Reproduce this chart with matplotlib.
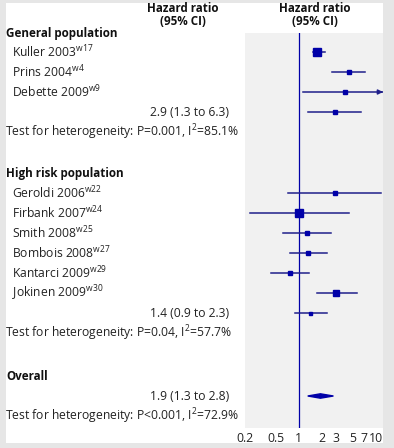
import matplotlib.pyplot as plt
import matplotlib.transforms as mtransforms
from matplotlib.patches import Rectangle
import numpy as np

plt.rcParams['font.family'] = ['Open Sans', 'DejaVu Sans']

# data
studies = ["Kuller 2003", "Prins 2004", "Debette 2009",
           "Geroldi 2006", "Firbank 2007", "Smith 2008", "Bombois 2008",
           "Kantarci 2009", "Jokinen 2009"]
refs = ["w17", "w4", "w9", "w22", "w24", "w25", "w27", "w29", "w30"]
hr = np.array([1.70, 4.4, 4.0, 2.9, 1.0, 1.27, 1.33, 0.77, 3.05])
lo = np.array([1.50, 2.7, 1.12, 0.73, 0.23, 0.62, 0.77, 0.43, 1.69])
hi = np.array([2.15, 7.2, 16.0, 11.6, 4.5, 2.62, 2.31, 1.37, 5.65])
weights = np.array([8.0, 3.5, 3.5, 3.3, 8.5, 3.7, 3.5, 4.7, 6.0])

groups = ["General population", "High risk population", "Overall"]
pooled = np.array([2.9, 1.4, 1.9])
pooled_lo = np.array([1.3, 0.9, 1.3])
pooled_hi = np.array([6.3, 2.3, 2.8])
pooled_w = np.array([5.0, 3.0])
het_p = ["P=0.001", "P=0.04", "P<0.001"]
het_i2 = ["85.1", "57.7", "72.9"]

xticks = [0.2, 0.5, 1, 2, 3, 5, 7, 10]
xticklabels = ["0.2", "0.5", "1", "2", "3", "5", "7", "10"]

# layout (row positions in pixels from the top)
study_rows = [52, 72, 92, 193, 213, 233, 253, 273, 293]
header_rows = [33, 173, 376]
pooled_rows = [112, 313, 396]
het_rows = [132, 333, 416]

W, H = 394, 448
fig = plt.figure(figsize=(W / 100, H / 100), dpi=100)
fig.patch.set_facecolor("#e6e6e6")
fig.patches.append(Rectangle((6 / W, 5 / H), (383 - 6) / W, (445 - 5) / H,
                             transform=fig.transFigure, facecolor="white",
                             edgecolor="none", zorder=-10))

ax = fig.add_axes([245 / W, (H - 428) / H, (383 - 245) / W, (428 - 33) / H])
ax.set_facecolor("#f1f1f1")
ax.set_xscale("log")
xmin, xmax = 0.21, 12.3
ax.set_xlim(xmin, xmax)
ax.set_ylim(428, 33)
for s in ax.spines.values():
    s.set_visible(False)
ax.set_yticks([])
ax.set_xticks(xticks)
ax.set_xticklabels(xticklabels)
ax.xaxis.set_minor_locator(plt.NullLocator())
ax.tick_params(axis="x", length=0, pad=3, labelsize=8.8, colors="#222222")

blue = "#0000a8"
line_blue = "#20208a"
ax.axvline(1, color=blue, lw=0.9, zorder=1)

# studies
for i in range(len(studies)):
    y = study_rows[i]
    top = min(hi[i], xmax)
    ax.plot([lo[i], top], [y, y], color=line_blue, lw=1.1, zorder=2)
    if hi[i] > xmax:
        ax.annotate("", xy=(xmax, y), xytext=(xmax * 0.85, y),
                    arrowprops=dict(arrowstyle="-|>", color=line_blue,
                                    lw=1.1, mutation_scale=7),
                    annotation_clip=False)
    ax.plot(hr[i], y, marker="s", color=blue, ms=weights[i] * 0.72,
            mec=blue, zorder=3)

# pooled subgroup estimates
for k in range(2):
    y = pooled_rows[k]
    ax.plot([pooled_lo[k], pooled_hi[k]], [y, y], color=line_blue, lw=1.1, zorder=2)
    ax.plot(pooled[k], y, marker="s", color=blue, ms=pooled_w[k] * 0.72, zorder=3)

# overall diamond
y = pooled_rows[2]
ax.fill([pooled_lo[2], pooled[2], pooled_hi[2], pooled[2]],
        [y, y - 2.2, y, y + 2.2], color=blue, zorder=3)

# text
trans = mtransforms.blended_transform_factory(fig.transFigure, ax.transData)
tc = "#222222"
fs = 8.75
for i, name in enumerate(studies):
    ax.text(12 / W, study_rows[i],
            name + r"$^{\mathregular{" + refs[i] + "}}$",
            transform=trans, fontsize=fs, color=tc, va="center", ha="left")
for k in range(3):
    ax.text(6 / W, header_rows[k], groups[k], transform=trans, fontsize=8.4,
            fontweight="bold", color="#111111", va="center", ha="left")
    ax.text(229 / W, pooled_rows[k],
            f"{pooled[k]:.1f} ({pooled_lo[k]:.1f} to {pooled_hi[k]:.1f})",
            transform=trans, fontsize=fs, color=tc, va="center", ha="right")
    ax.text(5 / W, het_rows[k],
            "Test for heterogeneity: " + het_p[k] + r", I$^{\mathregular{2}}$=" + het_i2[k] + "%",
            transform=trans, fontsize=fs, color=tc, va="center", ha="left")

for xc in [183, 315]:
    ax.text(xc / W, 15, "Hazard ratio\n(95% CI)", transform=trans, fontsize=8.4,
            fontweight="bold", color="#111111", va="center", ha="center",
            linespacing=1.0)

fig.savefig("out.png", dpi=100, facecolor=fig.get_facecolor())
